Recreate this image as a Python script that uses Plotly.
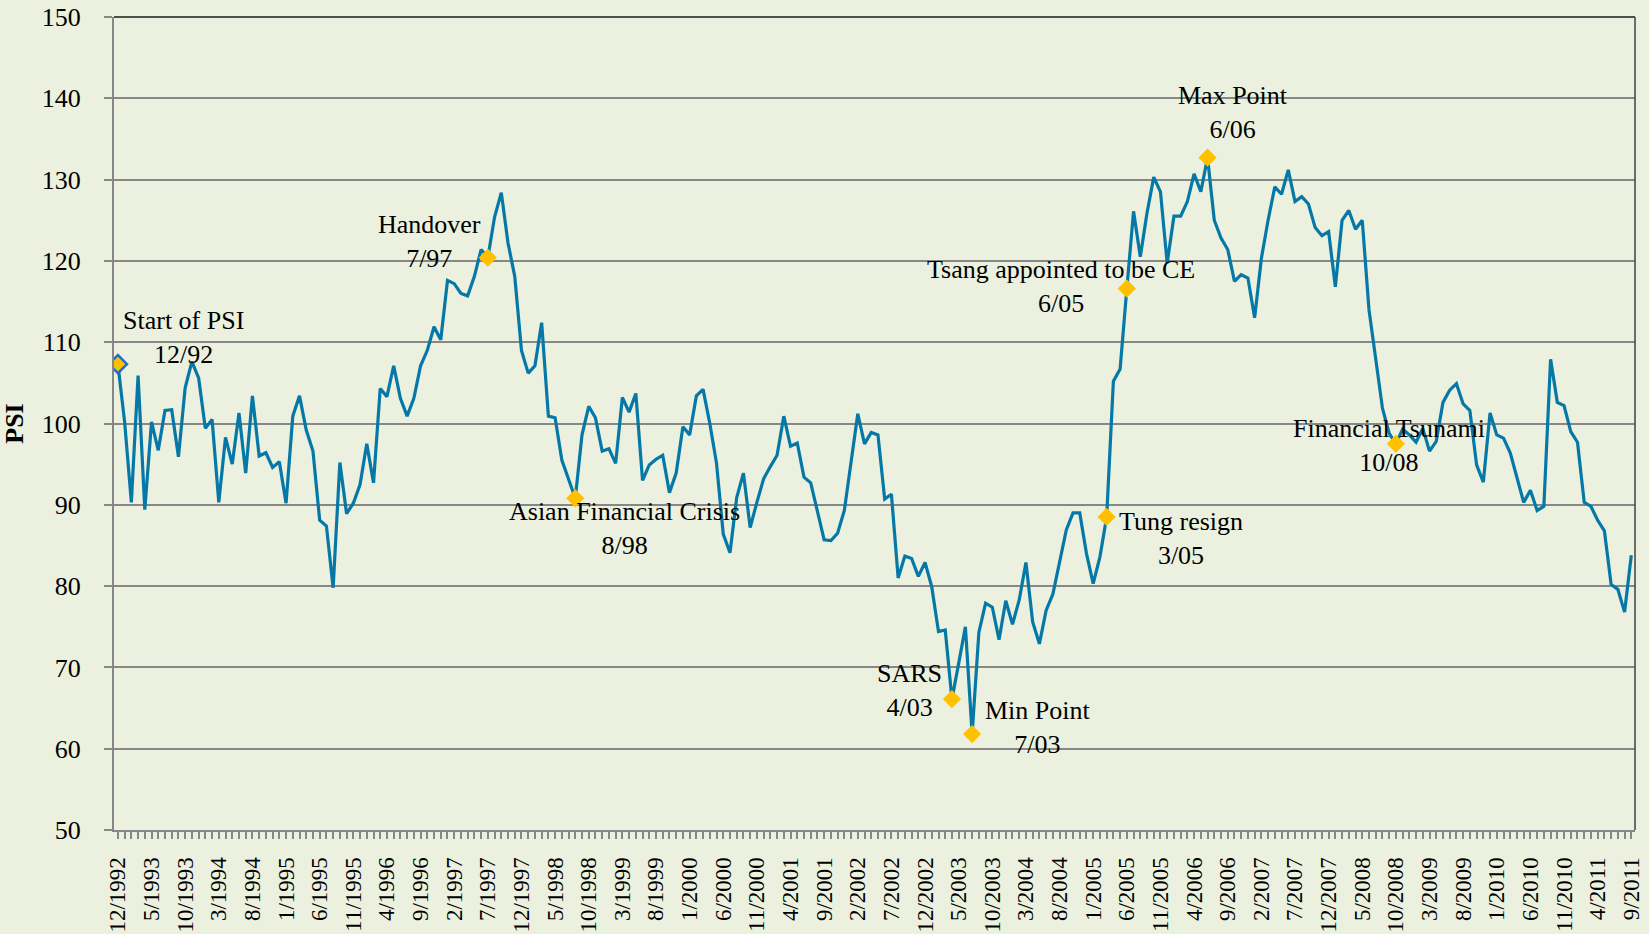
import plotly.graph_objects as go

# ---- data ----
start_year, start_month = 1992, 12
n_months = 226
months = []
y, m = start_year, start_month
for _ in range(n_months):
    months.append(f"{m}/{y}")
    m += 1
    if m > 12:
        m = 1
        y += 1

psi = [
    107.3, 100.2, 90.3, 105.9, 89.4, 100.2, 96.7, 101.6, 101.7, 95.9,
    104.4, 107.6, 105.6, 99.4, 100.5, 90.3, 98.3, 95.0, 101.3, 93.9,
    103.4, 96.0, 96.4, 94.6, 95.3, 90.2, 100.9, 103.4, 99.2, 96.6,
    88.1, 87.4, 79.8, 95.2, 88.9, 90.2, 92.5, 97.5, 92.7, 104.3,
    103.3, 107.1, 103.1, 100.9, 103.1, 107.1, 109.0, 111.9, 110.3, 117.6,
    117.2, 116.0, 115.7, 118.1, 121.4, 120.4, 125.4, 128.4, 122.2, 118.1,
    109.0, 106.2, 107.1, 112.4, 100.9, 100.7, 95.5, 93.0, 90.8, 98.6,
    102.1, 100.7, 96.6, 96.9, 95.1, 103.2, 101.4, 103.7, 93.0, 94.9,
    95.6, 96.1, 91.5, 93.9, 99.6, 98.6, 103.4, 104.2, 100.0, 95.1,
    86.4, 84.1, 90.9, 93.9, 87.2, 90.3, 93.2, 94.7, 96.1, 100.9,
    97.2, 97.6, 93.4, 92.7, 89.3, 85.7, 85.6, 86.5, 89.3, 95.5,
    101.2, 97.5, 98.9, 98.6, 90.7, 91.3, 81.0, 83.7, 83.4, 81.2,
    82.9, 79.9, 74.4, 74.6, 66.1, 70.5, 75.0, 61.8, 74.3, 77.9,
    77.4, 73.4, 78.2, 75.3, 78.3, 82.9, 75.6, 72.9, 77.0, 79.0,
    82.9, 86.9, 89.0, 89.0, 84.0, 80.3, 83.6, 88.5, 105.2, 106.7,
    116.6, 126.1, 120.5, 125.9, 130.3, 128.5, 119.7, 125.5, 125.5, 127.3,
    130.7, 128.5, 132.7, 125.0, 122.8, 121.4, 117.5, 118.3, 117.9, 113.0,
    120.3, 125.0, 129.1, 128.2, 131.2, 127.3, 127.9, 127.0, 124.1, 123.1,
    123.6, 116.8, 125.0, 126.2, 123.9, 125.0, 114.0, 107.6, 101.9, 98.8,
    97.5, 99.3, 98.6, 97.7, 99.4, 96.6, 97.8, 102.6, 104.1, 104.9,
    102.4, 101.6, 94.9, 92.8, 101.3, 98.6, 98.2, 96.4, 93.4, 90.3,
    91.8, 89.3, 89.8, 107.9, 102.6, 102.2, 99.0, 97.7, 90.3, 89.8,
    88.1, 86.8, 80.2, 79.6, 76.8, 83.8,
]

event_names = ["Start of PSI", "Handover", "Asian Financial Crisis", "SARS",
               "Min Point", "Tung resign", "Tsang appointed to be CE",
               "Max Point", "Financial Tsunami"]
event_dates = ["12/92", "7/97", "8/98", "4/03", "7/03", "3/05", "6/05",
               "6/06", "10/08"]
event_months = ["12/1992", "7/1997", "8/1998", "4/2003", "7/2003", "3/2005",
                "6/2005", "6/2006", "10/2008"]
# label offsets from the marker (pixels): (dx, dy up)
event_offsets = [(66, 27), (-58, 16), (49, -30), (-42, 9), (66, 7),
                 (74, -21), (-66, 2), (25, 45), (-7, -2)]

# ---- figure ----
FONT = "Liberation Serif, Times New Roman, serif"
BG = "#EBF1DE"
GRID = "#878787"
LINE = "#0578A8"
GOLD = "#FFC000"

ev_idx = [months.index(e) for e in event_months]
ev_vals = [psi[i] for i in ev_idx]

fig = go.Figure()
fig.add_trace(go.Scatter(
    x=months, y=psi, mode="lines",
    line=dict(color=LINE, width=3.2), hoverinfo="x+y", showlegend=False,
))
fig.add_trace(go.Scatter(
    x=[months[ev_idx[0]]], y=[ev_vals[0]], mode="markers",
    marker=dict(symbol="diamond", size=14, color=GOLD,
                line=dict(color="#1E6FC8", width=2.5)),
    showlegend=False,
))
fig.add_trace(go.Scatter(
    x=[months[i] for i in ev_idx[1:]], y=ev_vals[1:], mode="markers",
    marker=dict(symbol="diamond", size=14, color=GOLD, line=dict(width=0)),
    showlegend=False,
))

for name, date, i, v, (dx, dy) in zip(event_names, event_dates, ev_idx,
                                        ev_vals, event_offsets):
    fig.add_annotation(
        x=months[i], y=v, text=f"{name}<br>{date}", showarrow=False,
        xanchor="center", yanchor="middle", align="center",
        xshift=dx, yshift=dy,
        font=dict(family=FONT, size=26, color="black"),
    )

tick_text = [lab if k % 5 == 0 else "" for k, lab in enumerate(months)]

fig.update_layout(
    width=1649, height=934,
    margin=dict(l=114, r=14, t=17, b=104),
    paper_bgcolor=BG, plot_bgcolor=BG,
    font=dict(family=FONT, size=26, color="black"),
    xaxis=dict(
        type="category", categoryorder="array", categoryarray=months,
        range=[-0.58, n_months - 1 + 0.55],
        tickmode="array", tickvals=months, ticktext=tick_text,
        tickangle=-90, ticks="outside", ticklen=7, tickwidth=2,
        tickcolor=GRID, showline=True, linecolor=GRID, linewidth=2,
        showgrid=False, zeroline=False, automargin=False,
        tickfont=dict(family=FONT, size=23, color="black"),
        ticklabelstandoff=9,
    ),
    yaxis=dict(
        range=[50, 150], dtick=10, tick0=50,
        ticks="outside", ticklen=8, tickwidth=2, tickcolor=GRID,
        showline=True, linecolor=GRID, linewidth=2,
        showgrid=True, gridcolor=GRID, gridwidth=2, zeroline=False,
        automargin=False,
        tickfont=dict(family=FONT, size=26, color="black"),
        ticklabelstandoff=18,
        title=dict(text="<b>PSI</b>", standoff=14,
                   font=dict(family=FONT, size=26, color="black")),
    ),
)

fig.add_shape(type="line", xref="paper", yref="paper", x0=0, x1=1, y0=1, y1=1,
              line=dict(color="#1A1A1A", width=1.5), layer="above")
fig.add_shape(type="line", xref="paper", yref="paper", x0=1, x1=1, y0=0, y1=1,
              line=dict(color="#404040", width=1.5), layer="above")

fig.write_html(
    "out.html",
    config={"displayModeBar": False},
    post_script="document.body.style.margin='0px';"
                "document.body.style.background='" + BG + "';",
)
